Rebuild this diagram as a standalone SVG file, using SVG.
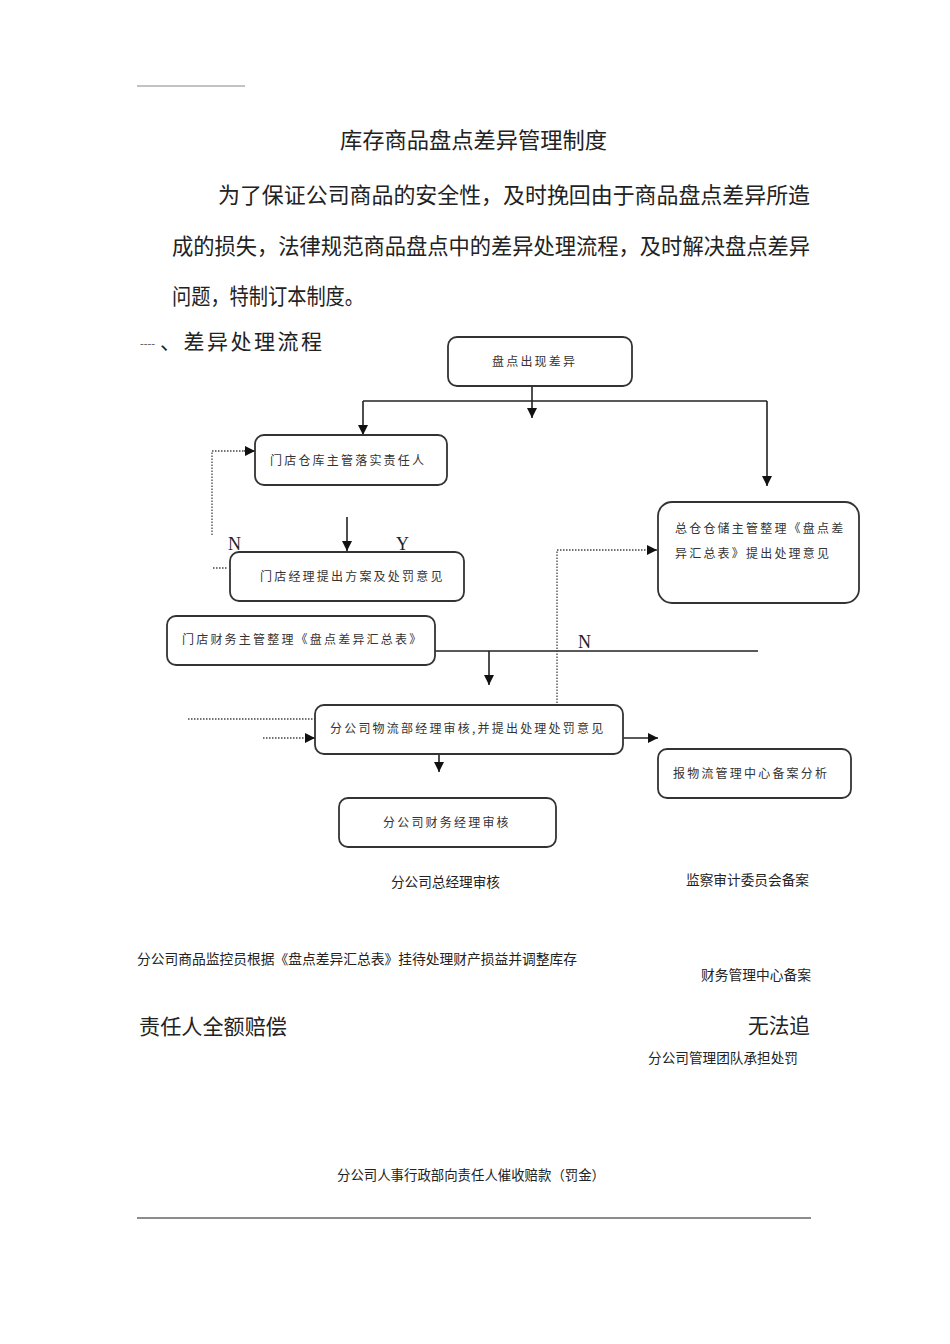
<svg xmlns="http://www.w3.org/2000/svg" width="950" height="1344" viewBox="0 0 950 1344">
<style>
.doc{font-family:"Liberation Serif","Noto Sans CJK SC",serif;fill:#222}
.bx{fill:#fff;stroke:#333;stroke-width:1.8}
.bt{font-family:"Noto Sans CJK SC",sans-serif;font-size:12px;letter-spacing:2.2px;fill:#333}
.ln{fill:none;stroke:#222;stroke-width:1.6}
.dt{fill:none;stroke:#444;stroke-width:1.3;stroke-dasharray:1.5 1.5}
.yn{font-family:"Liberation Serif",serif;font-size:18px;fill:#222}
</style>
<defs>
<marker id="ah" viewBox="0 0 10 10" refX="10" refY="5" markerWidth="10" markerHeight="10" markerUnits="userSpaceOnUse" orient="auto">
<path d="M0,0 L10,5 L0,10 z" fill="#111"/>
</marker>
</defs>
<rect width="950" height="1344" fill="#fff"/>
<line x1="137" y1="86" x2="245" y2="86" stroke="#888" stroke-width="1.2"/>
<text class="doc" x="340" y="148" font-size="22" textLength="267" lengthAdjust="spacingAndGlyphs">库存商品盘点差异管理制度</text>
<text class="doc" x="218" y="203" font-size="22" textLength="592" lengthAdjust="spacingAndGlyphs">为了保证公司商品的安全性，及时挽回由于商品盘点差异所造</text>
<text class="doc" x="172" y="254" font-size="22" textLength="638" lengthAdjust="spacingAndGlyphs">成的损失，法律规范商品盘点中的差异处理流程，及时解决盘点差异</text>
<text class="doc" x="172" y="304" font-size="22" textLength="192" lengthAdjust="spacingAndGlyphs">问题，特制订本制度。</text>
<text class="doc" x="140" y="347" font-size="8" fill="#555" textLength="15" lengthAdjust="spacingAndGlyphs">----</text>
<text class="doc" x="160" y="349" font-size="21" letter-spacing="2.5" font-family="Noto Sans CJK SC,sans-serif" fill="#333">、差异处理流程</text>

<g id="connectors">
<line class="ln" x1="532" y1="386" x2="532" y2="401"/>
<line class="ln" x1="363" y1="401" x2="767" y2="401"/>
<line class="ln" x1="532" y1="401" x2="532" y2="418" marker-end="url(#ah)"/>
<line class="ln" x1="363" y1="401" x2="363" y2="435" marker-end="url(#ah)"/>
<line class="ln" x1="767" y1="401" x2="767" y2="486" marker-end="url(#ah)"/>
<polyline class="dt" points="212,535 212,451 245,451"/>
<line x1="244" y1="451" x2="255" y2="451" stroke="#222" stroke-width="1.3" marker-end="url(#ah)"/>
<line class="ln" x1="347" y1="517" x2="347" y2="551" marker-end="url(#ah)"/>
<line class="dt" x1="213" y1="568" x2="227" y2="568"/>
<line class="ln" x1="435" y1="651" x2="758" y2="651"/>
<line class="ln" x1="489" y1="651" x2="489" y2="685" marker-end="url(#ah)"/>
<polyline class="dt" points="557,715 557,550 648,550"/>
<line x1="647" y1="550" x2="657" y2="550" stroke="#222" stroke-width="1.3" marker-end="url(#ah)"/>
<line class="dt" x1="188" y1="719" x2="315" y2="719"/>
<line class="dt" x1="263" y1="738" x2="306" y2="738"/>
<line x1="305" y1="738" x2="315" y2="738" stroke="#222" stroke-width="1.3" marker-end="url(#ah)"/>
<line class="ln" x1="623" y1="738" x2="658" y2="738" marker-end="url(#ah)"/>
<line class="ln" x1="439" y1="754" x2="439" y2="772" marker-end="url(#ah)"/>
<text class="yn" x="228" y="550">N</text>
<text class="yn" x="396" y="550">Y</text>
<text class="yn" x="578" y="648">N</text>
</g>

<g id="n1"><rect class="bx" x="448" y="337" width="184" height="49" rx="9"/><text class="bt" x="492" y="366">盘点出现差异</text></g>
<g id="n2"><rect class="bx" x="255" y="435" width="192" height="50" rx="9"/><text class="bt" x="270" y="465">门店仓库主管落实责任人</text></g>
<g id="n3"><rect class="bx" x="230" y="552" width="234" height="49" rx="9"/><text class="bt" x="260" y="581">门店经理提出方案及处罚意见</text></g>
<g id="n4"><rect class="bx" x="167" y="616" width="268" height="49" rx="9"/><text class="bt" x="182" y="644">门店财务主管整理《盘点差异汇总表》</text></g>
<g id="n5"><rect class="bx" x="658" y="502" width="201" height="101" rx="14"/><text class="bt" x="675" y="533">总仓仓储主管整理《盘点差</text><text class="bt" x="675" y="558">异汇总表》提出处理意见</text></g>
<g id="n6"><rect class="bx" x="315" y="705" width="308" height="49" rx="9"/><text class="bt" x="330" y="733">分公司物流部经理审核,并提出处理处罚意见</text></g>
<g id="n7"><rect class="bx" x="658" y="749" width="193" height="49" rx="9"/><text class="bt" x="673" y="778">报物流管理中心备案分析</text></g>
<g id="n8"><rect class="bx" x="339" y="798" width="217" height="49" rx="9"/><text class="bt" x="383" y="827">分公司财务经理审核</text></g>

<g id="notes">
<text class="doc" x="391" y="887" font-size="13.5" textLength="109" lengthAdjust="spacingAndGlyphs">分公司总经理审核</text>
<text class="doc" x="686" y="885" font-size="13.5" textLength="123" lengthAdjust="spacingAndGlyphs">监察审计委员会备案</text>
<text class="doc" x="137" y="964" font-size="13.5" textLength="440" lengthAdjust="spacingAndGlyphs">分公司商品监控员根据《盘点差异汇总表》挂待处理财产损益并调整库存</text>
<text class="doc" x="701" y="980" font-size="13.5" textLength="110" lengthAdjust="spacingAndGlyphs">财务管理中心备案</text>
<text class="doc" x="139" y="1034" font-size="21" textLength="148" lengthAdjust="spacingAndGlyphs">责任人全额赔偿</text>
<text class="doc" x="748" y="1033" font-size="21" textLength="62" lengthAdjust="spacingAndGlyphs">无法追</text>
<text class="doc" x="648" y="1063" font-size="13.5" textLength="150" lengthAdjust="spacingAndGlyphs">分公司管理团队承担处罚</text>
<text class="doc" x="337" y="1180" font-size="13.5" textLength="268" lengthAdjust="spacingAndGlyphs">分公司人事行政部向责任人催收赔款（罚金）</text>
</g>
<line x1="137" y1="1218" x2="811" y2="1218" stroke="#666" stroke-width="1.4"/>
</svg>
